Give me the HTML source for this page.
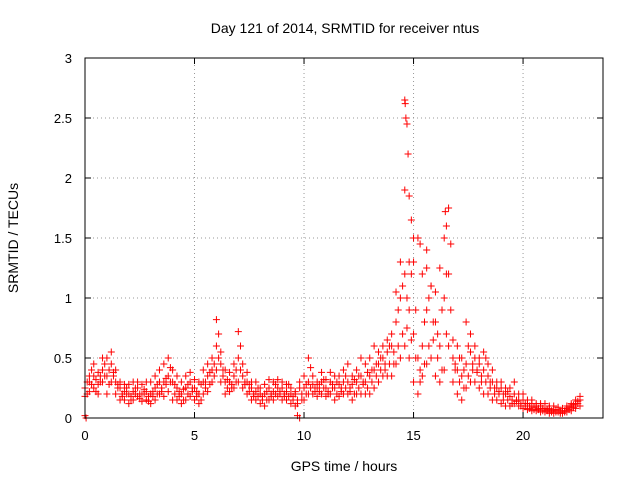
<!DOCTYPE html>
<html><head><meta charset="utf-8"><style>
body{margin:0;background:#fff;}
svg{display:block;font-family:"Liberation Sans",sans-serif;}
</style></head><body>
<svg id="chart" width="640" height="480" viewBox="0 0 640 480" xmlns="http://www.w3.org/2000/svg">
<rect width="640" height="480" fill="#fff"/>
<text x="345" y="33" font-size="14" text-anchor="middle">Day 121 of 2014, SRMTID for receiver ntus</text>
<g id="grid"></g>
<g id="ticks"></g>
<g id="marks"></g>
<rect x="85" y="58" width="518" height="360" fill="none" stroke="#000" stroke-width="1"/>
<text x="344" y="471" font-size="14" text-anchor="middle">GPS time / hours</text>
<text x="0" y="0" font-size="14" text-anchor="middle" transform="translate(18,238) rotate(-90)">SRMTID / TECUs</text>
</svg>
<script>
const xTicks=[0,5,10,15,20];
const yTicks=[0,0.5,1,1.5,2,2.5,3];
const yTickLabels=["0","0.5","1","1.5","2","2.5","3"];
const times=[0,0.2,0.4,0.6,0.8,1,1.2,1.4,1.6,1.8,2,2.2,2.4,2.6,2.8,3,3.2,3.4,3.6,3.8,4,4.2,4.4,4.6,4.8,5,5.2,5.4,5.6,5.8,6,6.2,6.4,6.6,6.8,7,7.2,7.4,7.6,7.8,8,8.2,8.4,8.6,8.8,9,9.2,9.4,9.6,9.8,10,10.2,10.4,10.6,10.8,11,11.2,11.4,11.6,11.8,12,12.2,12.4,12.6,12.8,13,13.2,13.4,13.6,13.8,14,14.2,14.4,14.6,14.8,15,15.2,15.4,15.6,15.8,16,16.2,16.4,16.6,16.8,17,17.2,17.4,17.6,17.8,18,18.2,18.4,18.6,18.8,19,19.2,19.4,19.6,19.8,20,20.2,20.4,20.6,20.8,21,21.2,21.4,21.6,21.8,22,22.2,22.4,22.6];
const seriesA=[.25,.3,.35,.28,.4, .35,.45,.3,.25,.22, .2,.22,.25,.2,.22, .2,.25,.3,.3,.35, .3,.25,.2,.25,.3, .25,.2,.3,.35,.4, .6,.45,.3,.3,.35, .5,.35,.3,.25,.22, .2,.2,.25,.22,.25, .25,.22,.2,.2,.25, .25,.3,.28,.25,.3, .25,.3,.25,.28,.3, .3,.28,.3,.35,.3, .35,.4,.45,.5,.55, .6,.8,1.0,1.2,.9, .7,.5,.6,.9,1.1, .8,.6,1.0,1.2,.5, .4,.35,.45,.55,.5, .45,.4,.35,.3,.25, .25,.2,.18,.2,.15, .15,.12,.12,.1,.1, .08,.08,.07,.07,.06, .08,.1,.12,.15];
const seriesB=[.18,.22,.25,.2,.3, .2,.3,.2,.15,.15, .12,.15,.18,.14,.15, .12,.15,.2,.18,.22, .15,.15,.12,.15,.18, .15,.12,.2,.22,.3, .4,.3,.2,.22,.25, .3,.25,.2,.15,.15, .12,.1,.15,.15,.18, .15,.15,.12,.1,0, .15,.2,.2,.18,.2, .18,.2,.15,.18,.2, .2,.15,.2,.2,.2, .2,.25,.3,.35,.35, .35,.45,.5,.6,.5, .3,.2,.35,.45,.5, .35,.3,.4,.6,.3, .2,.15,.25,.3,.3, .25,.2,.2,.15,.15, .12,.1,.1,.12,.1, .08,.07,.06,.06,.05, .05,.04,.04,.05,.04, .05,.06,.08,.1];
const seriesC=[.02,.35,.45,.38,.5, .5,.55,.4,.3,.28, .28,.3,.3,.28,.3, .3,.35,.4,.45,.5, .4,.35,.3,.35,.38, .32,.3,.4,.45,.5, .82,.55,.4,.38,.45, .72,.45,.38,.3,.3, .25,.28,.32,.3,.32, .3,.28,.25,.22,.3, .35,.5,.35,.3,.38, .32,.38,.35,.35,.4, .45,.35,.4,.5,.45, .5,.6,.55,.6,.65, .7,1.05,1.3,1.9,1.3, 1.3,1.5,1.2,1.4,1.1, 1.05,1.25,1.5,1.75,.65, .6,.5,.8,.7,.6, .5,.55,.45,.4,.3, .3,.25,.25,.3,.2, .2,.15,.15,.12,.12, .12,.1,.1,.09,.08, .1,.12,.15,.18];
const times2=[0.1,0.3,0.5,0.7,0.9,1.1,1.3,1.5,1.7,1.9,2.1,2.3,2.5,2.7,2.9,3.1,3.3,3.5,3.7,3.9,4.1,4.3,4.5,4.7,4.9,5.1,5.3,5.5,5.7,5.9,6.1,6.3,6.5,6.7,6.9,7.1,7.3,7.5,7.7,7.9,8.1,8.3,8.5,8.7,8.9,9.1,9.3,9.5,9.7,9.9,10.1,10.3,10.5,10.7,10.9,11.1,11.3,11.5,11.7,11.9,12.1,12.3,12.5,12.7,12.9,13.1,13.3,13.5,13.7,13.9,14.1,14.3,14.5,14.7,14.9,15.1,15.3,15.5,15.7,15.9,16.1,16.3,16.5,16.7,16.9,17.1,17.3,17.5,17.7,17.9,18.1,18.3,18.5,18.7,18.9,19.1,19.3,19.5,19.7,19.9,20.1,20.3,20.5,20.7,20.9,21.1,21.3,21.5,21.7,21.9,22.1,22.3,22.5];
const seriesD=[.3,.4,.32,.35,.45, .4,.38,.28,.2,.25, .18,.25,.2,.24,.18, .22,.28,.25,.33,.42, .28,.22,.24,.28,.22, .22,.28,.3,.38,.45, .7,.4,.32,.28,.4, .6,.3,.28,.2,.25, .18,.22,.2,.28,.22, .2,.28,.18,.15,.2, .28,.42,.22,.28,.32, .22,.28,.3,.25,.35, .25,.32,.35,.3,.38, .4,.45,.5,.45,.6, .55,.9,1.1,1.0,1.2, .9,.4,.8,1.0,.8, .7,.9,1.2,1.45,.45, .5,.4,.6,.45,.4, .35,.5,.3,.25,.22, .2,.22,.15,.15,.12, .12,.1,.09,.08,.08, .07,.06,.06,.05,.06, .09,.11,.14];
const seriesE=[.2,.28,.22,.3,.35, .28,.35,.25,.18,.2, .15,.2,.16,.2,.14, .18,.2,.22,.28,.3, .2,.18,.15,.2,.25, .18,.15,.25,.28,.35, .5,.35,.25,.25,.3, .4,.28,.22,.18,.18, .15,.15,.18,.2,.2, .18,.18,.15,.12,.15, .2,.25,.25,.22,.25, .2,.25,.2,.22,.25, .22,.2,.25,.28,.25, .3,.35,.4,.4,.45, .45,.6,.7,.75,.65, .5,.3,.45,.6,.65, .5,.4,.7,.9,.4, .3,.25,.35,.4,.38, .3,.3,.25,.2,.2, .15,.15,.12,.14,.1, .1,.08,.07,.07,.06, .06,.05,.05,.04,.05, .07,.09,.12];
const spikeTimes=[14.6,14.62,14.65,14.7,14.75,14.8,14.9,15.0,16.45,16.5,15.3,15.6,9.7,0.05];
const spikeValues=[2.65,2.62,2.5,2.45,2.2,1.85,1.65,1.5,1.72,1.6,1.45,1.25,0.02,0.0];

const X0=85,X1=603,Y0=418,Y1=58,XMAX=23.65,YMAX=3;
function xs(t){return X0+(X1-X0)*t/XMAX;}
function ys(v){return Y0-(Y0-Y1)*v/YMAX;}
const NS="http://www.w3.org/2000/svg";
const grid=document.getElementById('grid'),ticks=document.getElementById('ticks'),marks=document.getElementById('marks');
function mk(tag,attrs,parent){const e=document.createElementNS(NS,tag);for(const k in attrs)e.setAttribute(k,attrs[k]);parent.appendChild(e);return e;}
xTicks.forEach(t=>{
  const x=xs(t);
  const g=mk('line',{x1:x,y1:Y0,x2:x,y2:Y1,stroke:'#999','stroke-dasharray':'1,3'},grid);
  
  
  mk('line',{x1:x,y1:Y0,x2:x,y2:Y0-6,stroke:'#000'},ticks);
  mk('line',{x1:x,y1:Y1,x2:x,y2:Y1+6,stroke:'#000'},ticks);
  const tx=mk('text',{x:x,y:Y0+22,'font-size':13,'text-anchor':'middle'},ticks);
  tx.textContent=String(t);
  
  
});
yTicks.forEach((v,i)=>{
  const y=ys(v);
  const g=mk('line',{x1:X0,y1:y,x2:X1,y2:y,stroke:'#999','stroke-dasharray':'1,3'},grid);
  
  
  mk('line',{x1:X0,y1:y,x2:X0+6,y2:y,stroke:'#000'},ticks);
  mk('line',{x1:X1,y1:y,x2:X1-6,y2:y,stroke:'#000'},ticks);
  const tx=mk('text',{x:72,y:y+5,'font-size':13,'text-anchor':'end'},ticks);
  tx.textContent=yTickLabels[i];
  
  
});
function plus(t,v){
  const x=xs(t),y=ys(v);
  const p=mk('path',{d:`M${x-3.5},${y}h7M${x},${y-3.5}v7`,stroke:'#f00','stroke-width':1,fill:'none'},marks);
  
  
}
[seriesA,seriesB,seriesC].forEach(s=>s.forEach((v,i)=>plus(times[i],v)));
[seriesD,seriesE].forEach(s=>s.forEach((v,i)=>plus(times2[i],v)));
spikeTimes.forEach((t,i)=>plus(t,spikeValues[i]));
</script>
</body></html>
